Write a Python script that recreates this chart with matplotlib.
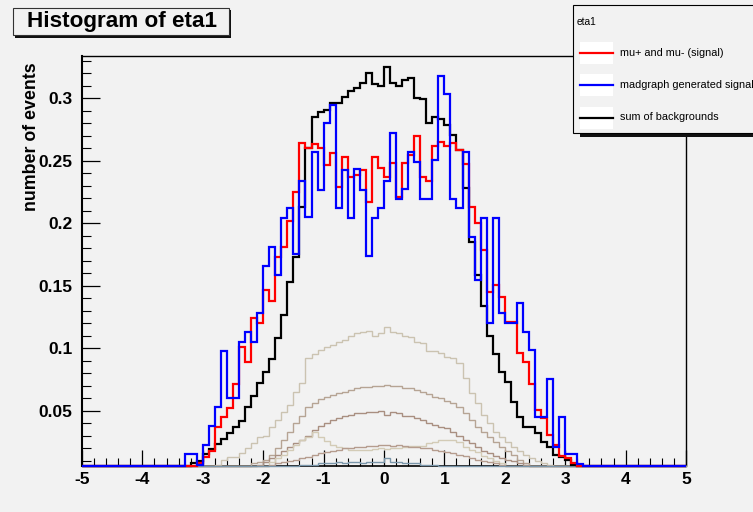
import numpy as np
import matplotlib
matplotlib.use("Agg")
import matplotlib.pyplot as plt
from matplotlib.patches import Rectangle
from matplotlib.lines import Line2D

# ---------------- data (bins of width 0.1, first bin starts at -3.5) ----------------
BIN_WIDTH = 0.1
FIRST_EDGE = -3.5
XMIN, XMAX = -5.0, 5.0
YMIN, YMAX = 0.0058, 0.3338

signal_red = [
    0.0, 0.002, 0.003, 0.006, 0.008,
    0.0133, 0.018, 0.0373, 0.0448, 0.0525, 0.0716, 0.1008, 0.089, 0.1245, 0.1201,
    0.1466, 0.138, 0.1728, 0.1808, 0.2021, 0.2253, 0.264, 0.26, 0.2634, 0.26,
    0.2466, 0.2565, 0.2293, 0.2528, 0.2368, 0.2386, 0.2426, 0.2173, 0.2528, 0.244,
    0.2373, 0.248, 0.2208, 0.248, 0.2546, 0.2698, 0.2373, 0.2341, 0.2618, 0.2653,
    0.2618, 0.264, 0.2584, 0.2474, 0.2133, 0.200, 0.1786, 0.1453, 0.1506, 0.1413,
    0.121, 0.121, 0.0965, 0.0893, 0.0717, 0.0506, 0.044, 0.0306, 0.0226, 0.0135,
    0.012, 0.008, 0.003, 0.001, 0.0,
]
madgraph_blue = [
    0.0, 0.002, 0.0152, 0.0152, 0.0066,
    0.0226, 0.0378, 0.0533, 0.0981, 0.060, 0.060, 0.1053, 0.1133, 0.1053, 0.1285,
    0.1661, 0.1813, 0.1586, 0.204, 0.212, 0.175, 0.2341, 0.2053, 0.2573, 0.2266,
    0.2805, 0.2946, 0.212, 0.2426, 0.204, 0.2432, 0.2266, 0.1738, 0.204, 0.212,
    0.2341, 0.2725, 0.2192, 0.2272, 0.2573, 0.2493, 0.2197, 0.2197, 0.2506, 0.3181,
    0.3032, 0.2192, 0.212, 0.2573, 0.1893, 0.155, 0.204, 0.1205, 0.204, 0.1285,
    0.1205, 0.1205, 0.136, 0.1133, 0.0983, 0.0453, 0.0453, 0.0754, 0.0213, 0.0453,
    0.0154, 0.0154, 0.0074, 0.0, 0.0,
]
backgrounds_black = [
    0.0, 0.002, 0.004, 0.008, 0.0101,
    0.0154, 0.0192, 0.0234, 0.0272, 0.032, 0.0373, 0.0421, 0.0533, 0.0621, 0.072,
    0.0813, 0.0912, 0.1085, 0.1266, 0.153, 0.173, 0.2133, 0.26, 0.2853, 0.2893,
    0.2907, 0.2965, 0.2965, 0.3008, 0.306, 0.3079, 0.3125, 0.320, 0.3114, 0.3098,
    0.3253, 0.3125, 0.3098, 0.3146, 0.316, 0.300, 0.2991, 0.2805, 0.2848, 0.2832,
    0.2787, 0.2703, 0.2587, 0.228, 0.1853, 0.1587, 0.1338, 0.1098, 0.0954, 0.0813,
    0.0733, 0.0573, 0.0448, 0.0373, 0.0373, 0.0325, 0.025, 0.0213, 0.0147, 0.0128,
    0.0107, 0.0066, 0.003, 0.001, 0.0,
]
bkg1 = [
    0, 0, 0, 0, 0.001,
    0.002, 0.004, 0.007, 0.0106, 0.0133, 0.0133, 0.0165, 0.020, 0.024, 0.0293,
    0.030, 0.0373, 0.0426, 0.0493, 0.0546, 0.0653, 0.0725, 0.092, 0.0957, 0.0989,
    0.101, 0.1029, 0.1048, 0.1069, 0.110, 0.1125, 0.1133, 0.1141, 0.1098, 0.112,
    0.1168, 0.1133, 0.112, 0.1098, 0.1088, 0.1053, 0.1045, 0.098, 0.098, 0.096,
    0.0933, 0.092, 0.0885, 0.076, 0.064, 0.056, 0.047, 0.040, 0.033, 0.029,
    0.025, 0.021, 0.018, 0.015, 0.012, 0.010, 0.008, 0.007, 0.005, 0.003,
    0.002, 0.001, 0, 0, 0,
]
bkg2 = [
    0, 0, 0, 0, 0,
    0, 0.001, 0.001, 0.002, 0.003, 0.004, 0.005, 0.006, 0.008, 0.009,
    0.0106, 0.0147, 0.020, 0.0266, 0.0333, 0.040, 0.046, 0.0533, 0.0565, 0.0595,
    0.061, 0.0625, 0.064, 0.0653, 0.0666, 0.068, 0.0688, 0.0693, 0.0698, 0.0698,
    0.0706, 0.0698, 0.0698, 0.068, 0.068, 0.0666, 0.0653, 0.0634, 0.0613, 0.060,
    0.058, 0.056, 0.0533, 0.048, 0.0426, 0.0373, 0.033, 0.029, 0.025, 0.021,
    0.018, 0.015, 0.011, 0.008, 0.006, 0.004, 0.002, 0.001, 0, 0,
    0, 0, 0, 0, 0,
]
bkg3 = [
    0, 0, 0, 0, 0,
    0, 0, 0, 0, 0.001, 0.001, 0.002, 0.003, 0.005, 0.007,
    0.009, 0.012, 0.015, 0.018, 0.021, 0.024, 0.027, 0.030, 0.0347, 0.038,
    0.040, 0.0426, 0.044, 0.0459, 0.0467, 0.048, 0.0485, 0.0493, 0.0493, 0.050,
    0.0467, 0.0493, 0.048, 0.0459, 0.0459, 0.044, 0.0426, 0.0405, 0.0386, 0.037,
    0.036, 0.033, 0.030, 0.027, 0.024, 0.021, 0.018, 0.016, 0.014, 0.012,
    0.011, 0.010, 0.008, 0.007, 0.006, 0.005, 0.004, 0.003, 0.002, 0.001,
    0, 0, 0, 0, 0,
]
bkg4 = [
    0, 0, 0, 0, 0,
    0, 0, 0, 0, 0, 0, 0.001, 0.001, 0.002, 0.004,
    0.006, 0.009, 0.012, 0.015, 0.019, 0.023, 0.027, 0.029, 0.0333, 0.029,
    0.026, 0.023, 0.021, 0.020, 0.019, 0.0187, 0.0187, 0.0187, 0.0195, 0.020,
    0.0195, 0.020, 0.0205, 0.021, 0.022, 0.0215, 0.022, 0.024, 0.0253, 0.0267,
    0.0267, 0.0267, 0.0253, 0.0213, 0.019, 0.017, 0.014, 0.012, 0.010, 0.008,
    0.006, 0.005, 0.004, 0.003, 0.002, 0.001, 0, 0, 0, 0,
    0, 0, 0, 0, 0,
]
bkg5 = [
    0, 0, 0, 0, 0,
    0, 0, 0, 0, 0, 0.001, 0.002, 0.003, 0.004, 0.005,
    0.006, 0.007, 0.008, 0.009, 0.010, 0.011, 0.012, 0.013, 0.015, 0.016,
    0.017, 0.018, 0.019, 0.020, 0.020, 0.021, 0.0213, 0.022, 0.022, 0.0226,
    0.0226, 0.022, 0.0226, 0.022, 0.0213, 0.021, 0.020, 0.020, 0.019, 0.018,
    0.017, 0.016, 0.015, 0.014, 0.012, 0.011, 0.010, 0.009, 0.008, 0.007,
    0.006, 0.005, 0.004, 0.003, 0.002, 0.001, 0, 0, 0, 0,
    0, 0, 0, 0, 0,
]
bkg6 = [
    0, 0, 0, 0, 0,
    0, 0, 0, 0, 0, 0, 0, 0, 0.001, 0.002,
    0.003, 0.004, 0.005, 0.005, 0.006, 0.006, 0.007, 0.007, 0.007, 0.008,
    0.008, 0.008, 0.009, 0.008, 0.009, 0.009, 0.008, 0.009, 0.009, 0.009,
    0.012, 0.009, 0.009, 0.008, 0.008, 0.008, 0.007, 0.007, 0.007, 0.006,
    0.006, 0.006, 0.005, 0.005, 0.004, 0.003, 0.003, 0.002, 0.002, 0.001,
    0.001, 0, 0, 0, 0, 0, 0, 0, 0, 0,
    0, 0, 0, 0, 0,
]

x_ticks = [-5, -4, -3, -2, -1, 0, 1, 2, 3, 4, 5]
y_ticks = [0.05, 0.1, 0.15, 0.2, 0.25, 0.3]
y_tick_labels = ["0.05", "0.1", "0.15", "0.2", "0.25", "0.3"]
legend_labels = ["mu+ and mu- (signal)", "madgraph generated signal", "sum of backgrounds"]
title_text = "Histogram of eta1"
legend_title = "eta1"
y_label = "number of events"

# ---------------- styling ----------------
W, H = 753, 512
BG = "#f2f2f2"
FONT = ["Liberation Sans", "DejaVu Sans"]
plt.rcParams["font.family"] = FONT

bkg_colors = ["#cbc3b1", "#b6a494", "#a98f81", "#d3cbb6", "#b59c8e", "#7a96aa"]


def fx(px):
    return px / W


def fy(py):
    return 1 - py / H


def full_hist(vals):
    edges = np.round(np.linspace(XMIN, XMAX, int(round((XMAX - XMIN) / BIN_WIDTH)) + 1), 6)
    h = np.zeros(len(edges) - 1)
    i0 = int(round((FIRST_EDGE - XMIN) / BIN_WIDTH))
    h[i0:i0 + len(vals)] = vals
    return edges, h


fig = plt.figure(figsize=(W / 100, H / 100), dpi=100)
fig.patch.set_facecolor(BG)

ax = fig.add_axes([fx(82), fy(466), fx(686) - fx(82), fy(56) - fy(466)])
ax.set_facecolor(BG)
ax.set_xlim(XMIN, XMAX)
ax.set_ylim(YMIN, YMAX)

for vals, col in zip([bkg1, bkg2, bkg3, bkg4, bkg5, bkg6], bkg_colors):
    e, h = full_hist(vals)
    ax.stairs(np.clip(h, YMIN, None), e, baseline=None, color=col, lw=1.0,
              zorder=3, clip_on=False)

for vals, col in [(backgrounds_black, "black"), (signal_red, "#ff0000"), (madgraph_blue, "#0000ff")]:
    e, h = full_hist(vals)
    ax.stairs(np.clip(h, YMIN, None), e, baseline=None, color=col, lw=1.6,
              zorder=4, clip_on=False)

# axes frame & ticks (ROOT style)
for s in ax.spines.values():
    s.set_linewidth(1.0)
    s.set_color("black")
ax.spines["left"].set_linewidth(1.5)
ax.spines["bottom"].set_linewidth(1.2)

ax.set_xticks(x_ticks)
ax.set_xticklabels([str(t) for t in x_ticks])
ax.set_xticks(np.arange(-4.8, 5.0, 0.2), minor=True)
ax.set_yticks(y_ticks)
ax.set_yticklabels(y_tick_labels)
ax.set_yticks(np.arange(0.01, 0.335, 0.01), minor=True)

ax.tick_params(axis="x", which="major", direction="in", length=11.5, width=0.9, pad=4,
               labelsize=12.5, top=False)
ax.tick_params(axis="x", which="minor", direction="in", length=5.5, width=0.8, top=False)
ax.tick_params(axis="y", which="major", direction="in", length=13, width=0.9, pad=7,
               labelsize=12.5, right=False)
ax.tick_params(axis="y", which="minor", direction="in", length=6.5, width=0.8, right=False)
for lab in ax.get_xticklabels() + ax.get_yticklabels():
    lab.set_fontweight("bold")

fig.text(fx(32), fy(62), y_label, rotation=90, ha="center", va="top",
         fontsize=12.8, fontweight="bold")

# title box with shadow
fig.add_artist(Rectangle((fx(15), fy(37.5)), fx(231) - fx(15), fy(10) - fy(37.5),
                         transform=fig.transFigure, facecolor="#111111", edgecolor="none", zorder=5))
fig.add_artist(Rectangle((fx(13), fy(35)), fx(229) - fx(13), fy(8) - fy(35),
                         transform=fig.transFigure, facecolor=BG, edgecolor="#333333", lw=0.8, zorder=6))
fig.text(fx(122), fy(22), title_text, ha="center", va="center", fontsize=16.2,
         fontweight="bold", zorder=7)

# legend box with shadow
fig.add_artist(Rectangle((fx(580), fy(137)), fx(770) - fx(580), fy(10) - fy(137),
                         transform=fig.transFigure, facecolor="#111111", edgecolor="none", zorder=5))
fig.add_artist(Rectangle((fx(573), fy(133)), fx(770) - fx(573), fy(5) - fy(133),
                         transform=fig.transFigure, facecolor=BG, edgecolor="black", lw=0.8, zorder=6))
fig.text(fx(577), fy(22), legend_title, ha="left", va="center", fontsize=7.4, zorder=7)
for i, (lab, col) in enumerate(zip(legend_labels, ["#ff0000", "#0000ff", "black"])):
    yc = 52.5 + 32.5 * i
    fig.add_artist(Rectangle((fx(580), fy(yc + 11)), fx(613) - fx(580), fy(yc - 11) - fy(yc + 11),
                             transform=fig.transFigure, facecolor="white", edgecolor="none", zorder=7))
    fig.add_artist(Line2D([fx(580), fx(613)], [fy(yc), fy(yc)], transform=fig.transFigure,
                          color=col, lw=1.6, zorder=8))
    fig.text(fx(620), fy(yc), lab, ha="left", va="center", fontsize=7.8, zorder=8)

fig.savefig("out.png", dpi=100, facecolor=BG)
